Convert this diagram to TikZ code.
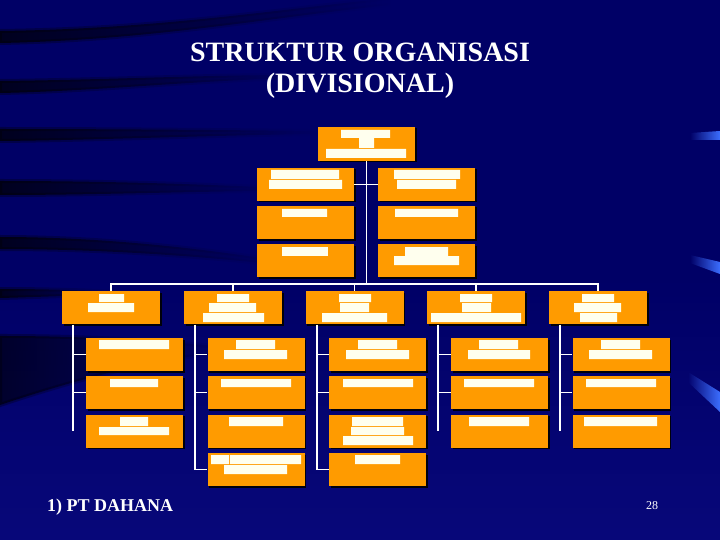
\documentclass[tikz,border=0pt]{standalone}
\usepackage{fontspec}
\setmainfont{Liberation Serif}
\usetikzlibrary{shadows,fadings}
\definecolor{bgtop}{RGB}{0,0,102}
\definecolor{bgbot}{RGB}{8,8,122}
\definecolor{org}{RGB}{255,155,0}
\definecolor{barc}{RGB}{255,255,238}
\definecolor{hl}{RGB}{60,110,255}
\begin{document}
\begin{tikzpicture}[x=1pt,y=-1pt,
  obox/.style={fill=org, inner sep=0pt, minimum width=97pt, minimum height=33pt,
    drop shadow={shadow xshift=1.5pt, shadow yshift=-1.5pt, fill=black, opacity=0.9}},
  wbar/.style={fill=barc},
  conn/.style={draw=white, line width=1.6pt},
  band/.style={fill=black, draw=black, line width=4pt, fill opacity=0.7, draw opacity=0.3, path fading=east},
  glow/.style={fill=hl, path fading=west}
  ]
% background
\useasboundingbox (0,0) rectangle (720,540);
\fill[bgtop] (0,0) rectangle (720,540);
\fill[bgbot, path fading=north] (0,270) rectangle (720,540);
\fill[band] (0,31) .. controls (150,29) and (260,12) .. (390,-2) -- (390,5) .. controls (260,19) and (150,40) .. (0,43) -- cycle;
\fill[band] (0,81) .. controls (100,80) and (200,75) .. (300,75) -- (300,78) .. controls (200,80) and (100,91) .. (0,93) -- cycle;
\fill[band] (0,129) .. controls (100,129) and (220,130) .. (320,131) -- (320,134) .. controls (220,135) and (100,140) .. (0,141) -- cycle;
\fill[band] (0,181) .. controls (100,181) and (200,184) .. (280,188) -- (280,191) .. controls (200,191) and (100,195) .. (0,195) -- cycle;
\fill[band] (0,237) .. controls (100,237) and (200,248) .. (280,261) -- (280,265) .. controls (200,256) and (100,249) .. (0,249) -- cycle;
\fill[band] (0,289) .. controls (40,289) and (80,290) .. (120,292) -- (120,295) .. controls (80,295) and (40,297) .. (0,298) -- cycle;
\fill[band, fill opacity=0.6] (0,336) .. controls (80,336) and (160,340) .. (230,348) -- (230,352) .. controls (150,358) and (60,385) .. (0,405) -- cycle;
\fill[glow] (690,133) -- (720,131) -- (720,140) -- (690,140) -- cycle;
\fill[glow] (690,255) -- (720,262) -- (720,274) -- (690,263) -- cycle;
\fill[glow] (688,372) -- (720,392) -- (720,412) -- (688,382) -- cycle;

% texts
\node[anchor=base, text=white, font=\bfseries\fontsize{28}{31}\selectfont] (t1) at (360,62) {STRUKTUR ORGANISASI};
\node[anchor=base, text=white, font=\bfseries\fontsize{28}{31}\selectfont] (t2) at (360,93) {(DIVISIONAL)};
\node[anchor=base west, inner sep=0pt, text=white, font=\bfseries\fontsize{18}{20}\selectfont] (foot) at (47,511) {1) PT DAHANA};
\node[anchor=base, inner sep=0pt, text=white, font=\fontsize{12}{14}\selectfont] (pg) at (652,509) {28};

% boxes
\node[obox, minimum height=34pt] (top) at (366.5,144) {};
\node[obox] (sl1) at (305.5,184.5) {};
\node[obox] (sl2) at (305.5,222.5) {};
\node[obox] (sl3) at (305.5,260.5) {};
\node[obox] (sr1) at (426.5,184.5) {};
\node[obox] (sr2) at (426.5,222.5) {};
\node[obox] (sr3) at (426.5,260.5) {};
\node[obox, minimum width=98pt] (d1) at (111,307.5) {};
\node[obox, minimum width=98pt] (d2) at (233,307.5) {};
\node[obox, minimum width=98pt] (d3) at (354.5,307.5) {};
\node[obox, minimum width=98pt] (d4) at (476,307.5) {};
\node[obox, minimum width=98pt] (d5) at (598,307.5) {};
\node[obox] (s11) at (134.5,354.5) {};
\node[obox] (s12) at (134.5,392.5) {};
\node[obox] (s13) at (134.5,431) {};
\node[obox] (s21) at (256,354.5) {};
\node[obox] (s22) at (256,392.5) {};
\node[obox] (s23) at (256,431) {};
\node[obox] (s24) at (256,469.5) {};
\node[obox] (s31) at (377.5,354.5) {};
\node[obox] (s32) at (377.5,392.5) {};
\node[obox] (s33) at (377.5,431) {};
\node[obox] (s34) at (377.5,469.5) {};
\node[obox] (s41) at (499.5,354.5) {};
\node[obox] (s42) at (499.5,392.5) {};
\node[obox] (s43) at (499.5,431) {};
\node[obox] (s51) at (621,354.5) {};
\node[obox] (s52) at (621,392.5) {};
\node[obox] (s53) at (621,431) {};

% white bars (placeholder text)
\fill[wbar] (341,130) rectangle (390,138) (359,137) rectangle (374,148) (326,149) rectangle (406,158);
\fill[wbar] (271,170) rectangle (339,179) (269,180) rectangle (342,189);
\fill[wbar] (394,170) rectangle (460,179) (397,180) rectangle (456,189);
\fill[wbar] (282,209) rectangle (327,217) (395,209) rectangle (458,217);
\fill[wbar] (282,247) rectangle (328,256);
\fill[wbar] (405,247) rectangle (448,256) (394,256) rectangle (459,265);
\fill[wbar] (99,294) rectangle (124,302) (88,303) rectangle (134,312);
\fill[wbar] (217,294) rectangle (249,302) (209,303) rectangle (256,312) (203,313) rectangle (264,322);
\fill[wbar] (339,294) rectangle (371,302) (340,303) rectangle (369,312) (322,313) rectangle (387,322);
\fill[wbar] (460,294) rectangle (492,302) (462,303) rectangle (491,312) (431,313) rectangle (521,322);
\fill[wbar] (582,294) rectangle (614,302) (574,303) rectangle (621,312) (580,313) rectangle (617,322);
\fill[wbar] (99,340) rectangle (169,349) (110,379) rectangle (158,387) (120,417) rectangle (148,426) (99,427) rectangle (169,435);
\fill[wbar] (236,340) rectangle (275,349) (224,350) rectangle (287,359) (221,379) rectangle (291,387) (229,417) rectangle (283,426);
\fill[wbar] (211,455) rectangle (229,464) (230,455) rectangle (301,464) (224,465) rectangle (287,474);
\fill[wbar] (358,340) rectangle (397,349) (346,350) rectangle (409,359) (343,379) rectangle (413,387);
\fill[wbar] (352,417) rectangle (403,426) (351,427) rectangle (404,435) (343,436) rectangle (413,445) (355,455) rectangle (400,464);
\fill[wbar] (479,340) rectangle (518,349) (468,350) rectangle (530,359) (464,379) rectangle (534,387) (469,417) rectangle (529,426);
\fill[wbar] (601,340) rectangle (640,349) (589,350) rectangle (652,359) (586,379) rectangle (656,387) (584,417) rectangle (657,426);

% connectors
\coordinate (bus) at (366.5,284);
\draw[conn] (top.south) -- (bus);
\draw[conn] (sl1.east) -- (sr1.west);
\draw[conn] (d1.north) -- ++(0,-7) -| (d5.north);
\foreach \n in {d2,d3,d4} \draw[conn] (\n.north) -- (\n.north |- bus);
\coordinate (v1) at (73,324.5);
\coordinate (v2) at (195,324.5);
\coordinate (v3) at (317,324.5);
\coordinate (v4) at (438,324.5);
\coordinate (v5) at (560,324.5);
\draw[conn] (v1) -- (v1 |- s13);
\draw[conn] (v2) |- (s24.west);
\draw[conn] (v3) |- (s34.west);
\draw[conn] (v4) -- (v4 |- s43);
\draw[conn] (v5) -- (v5 |- s53);
\foreach \i in {1,...,5} {
  \draw[conn] (v\i |- s\i1) -- (s\i1.west);
  \draw[conn] (v\i |- s\i2) -- (s\i2.west);
}
\end{tikzpicture}
\end{document}
